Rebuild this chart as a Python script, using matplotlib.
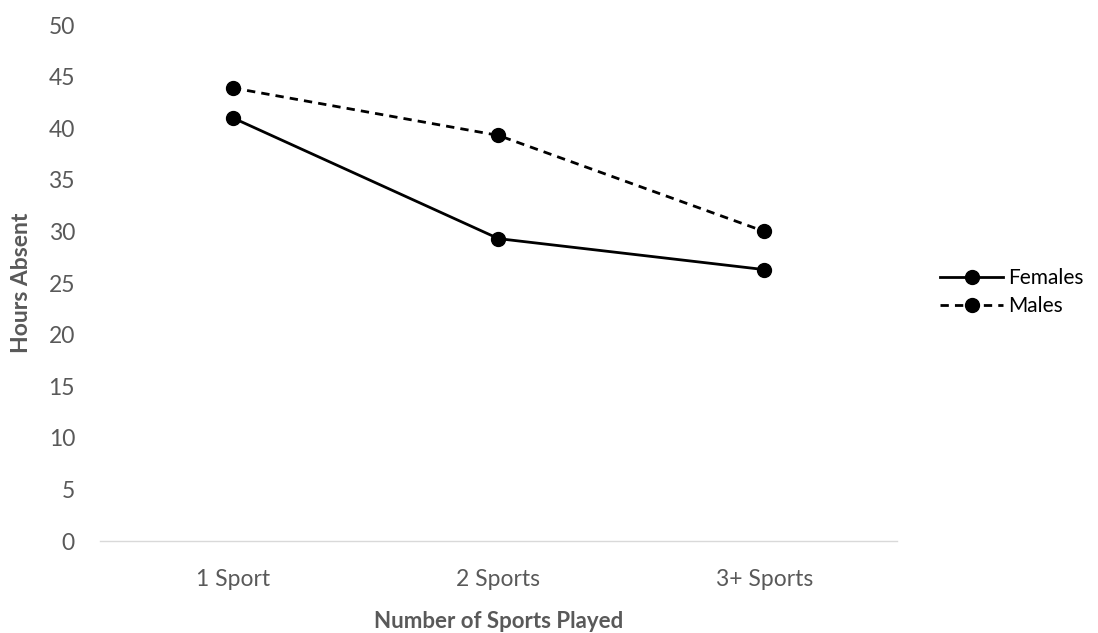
import matplotlib
matplotlib.use('Agg')
import matplotlib.pyplot as plt
import matplotlib as mpl

mpl.rcParams['font.family'] = ['Lato', 'DejaVu Sans']

# data
categories = ['1 Sport', '2 Sports', '3+ Sports']
females = [41.0, 29.3, 26.3]
males = [43.9, 39.3, 30.0]
y_ticks = [0, 5, 10, 15, 20, 25, 30, 35, 40, 45, 50]

grey = '#595959'

fig = plt.figure(figsize=(10.98, 6.33), dpi=100)
ax = fig.add_axes([100/1098, (633-541)/633, (897-100)/1098, (541-25)/633])

x = range(len(categories))
ax.plot(x, females, color='black', linestyle='-', linewidth=2,
        marker='o', markersize=10, label='Females')
ax.plot(x, males, color='black', linestyle=(0, (3, 2.2)), linewidth=2,
        marker='o', markersize=10, label='Males')

ax.set_xlim(-0.5, 2.5)
ax.set_ylim(0, 50)
ax.set_yticks(y_ticks)
ax.set_xticks(list(x))
ax.set_xticklabels(categories)

for side in ['top', 'right', 'left']:
    ax.spines[side].set_visible(False)
ax.spines['bottom'].set_color('#d9d9d9')
ax.spines['bottom'].set_linewidth(1)
ax.tick_params(axis='both', length=0, labelsize=16.5, colors=grey)
ax.tick_params(axis='y', pad=18)
ax.tick_params(axis='x', pad=20)

ax.set_xlabel('Number of Sports Played', fontsize=16, fontweight='bold', color=grey, labelpad=15)
ax.set_ylabel('Hours Absent', fontsize=16.5, fontweight='bold', color=grey, labelpad=12)

ax.legend(loc='center left', bbox_to_anchor=(932/1098, (633-292)/633),
          bbox_transform=fig.transFigure, borderaxespad=0, frameon=False,
          fontsize=15, handlelength=3.0, labelcolor='black', labelspacing=0.4,
          handletextpad=0.25)

fig.savefig('out.png', dpi=100)
